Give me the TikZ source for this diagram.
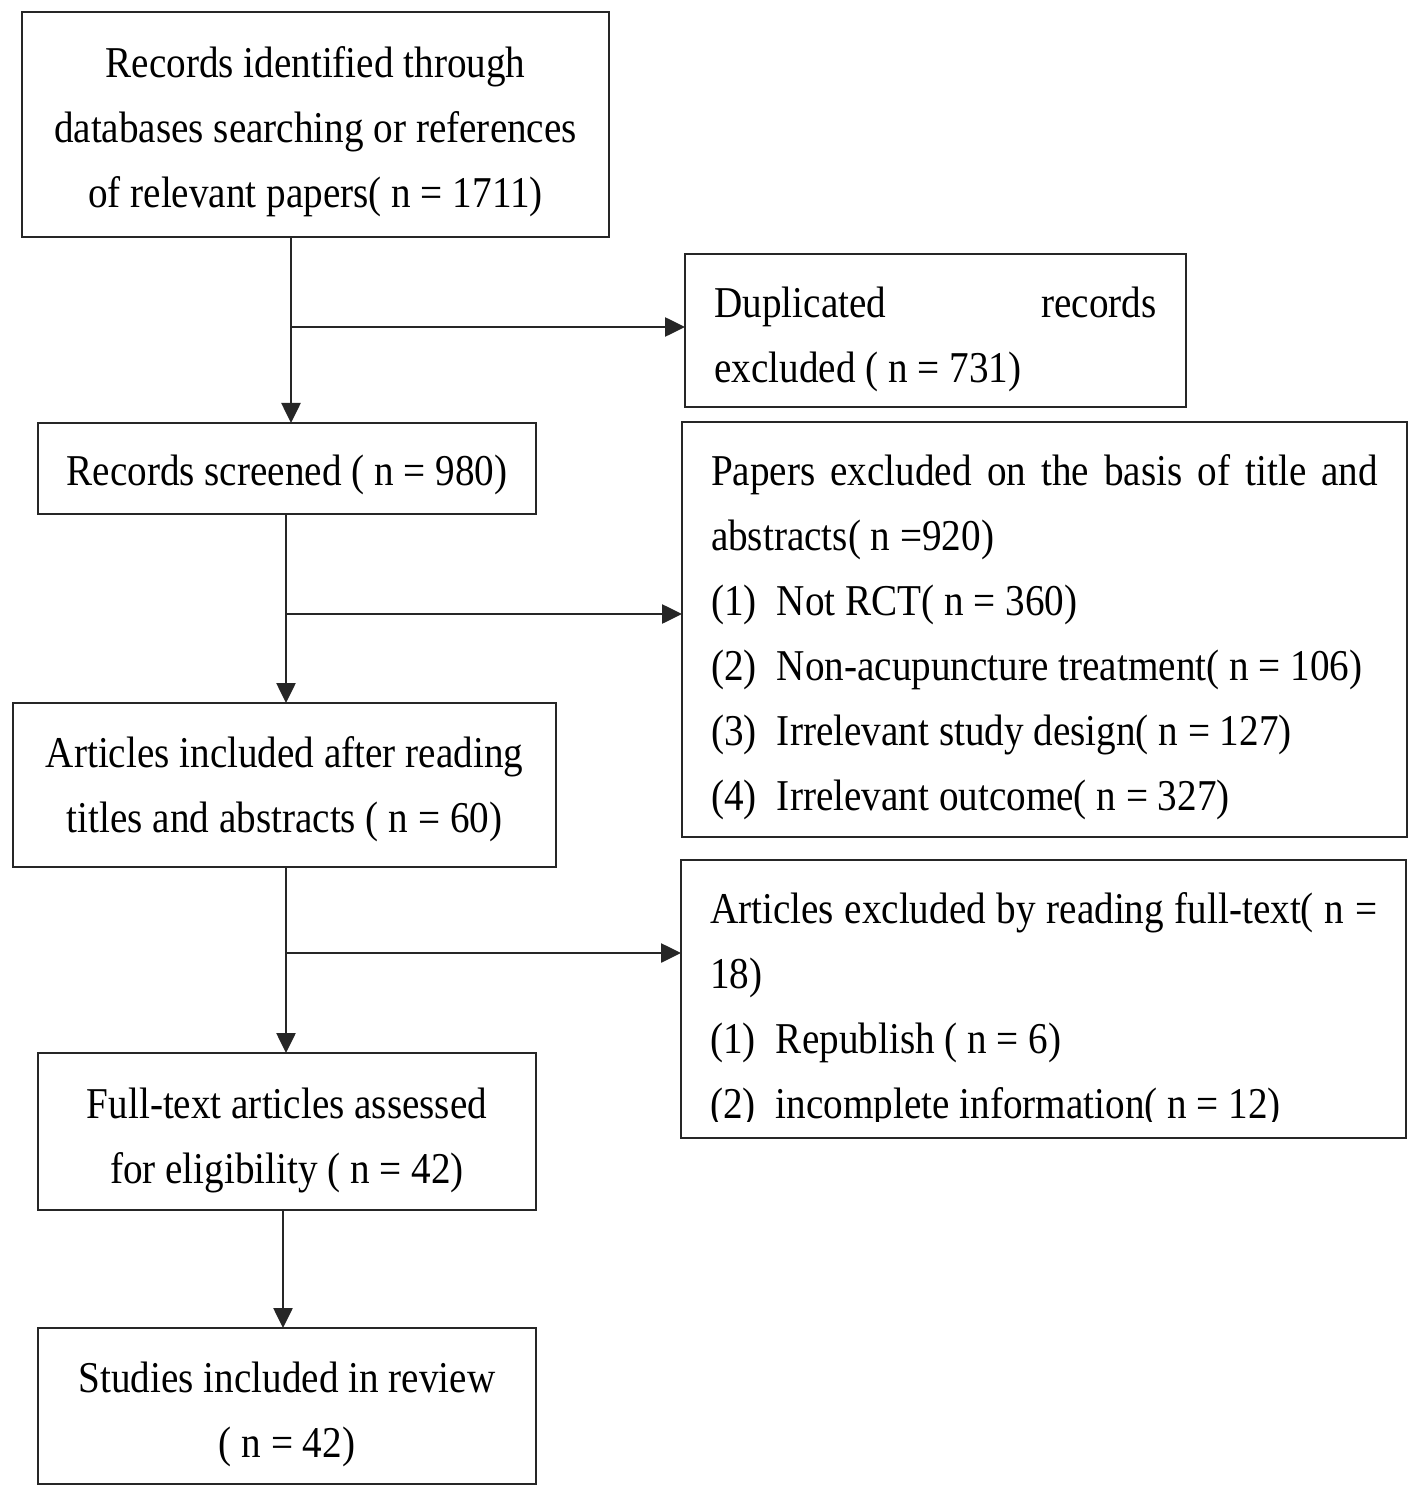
\documentclass[tikz,border=0pt]{standalone}
\usepackage{fontspec}
\setmainfont{Liberation Serif}[FakeStretch=0.89]
\usetikzlibrary{arrows.meta}
\begin{document}
\begin{tikzpicture}[x=0.5pt,y=-0.5pt,
  box/.style={draw=black!85, line width=1.3pt, inner sep=0pt, outer sep=0pt},
  txt/.style={font=\fontsize{22}{32.5}\selectfont, inner sep=0pt},
  ctxt/.style={txt, align=center},
  ltxt/.style={txt, align=flush left},
  arr/.style={draw=black!85, line width=1.3pt, -{Triangle[length=10pt,width=9.5pt]}}]
\useasboundingbox (0,0) rectangle (1418,1497);
\fill[white] (0,0) rectangle (1418,1497);

% boxes
\node[box, minimum width=293.5pt, minimum height=112.5pt] (b1) at (315.5,124.5) {};
\node[box, minimum width=250.5pt, minimum height=76.5pt] (b2) at (935.5,330.5) {};
\node[box, minimum width=249pt, minimum height=45.5pt] (b3) at (287,468.5) {};
\node[box, minimum width=362.5pt, minimum height=207.5pt] (b4) at (1044.5,629.5) {};
\node[box, minimum width=271.5pt, minimum height=82pt] (b5) at (284.5,785) {};
\node[box, minimum width=362.5pt, minimum height=139pt] (b6) at (1043.5,999) {};
\node[box, minimum width=249pt, minimum height=78.5pt] (b7) at (287,1131.5) {};
\node[box, minimum width=249pt, minimum height=78pt] (b8) at (287,1406) {};

% texts
\node[ctxt, yshift=-3.5pt] (b1t) at (b1.center)
  {Records identified through\\databases searching or references\\of relevant papers( n = 1711)};
\node[ltxt, text width=221pt, yshift=-4.5pt] (b2t) at (b2.center)
  {\makebox[\linewidth][s]{Duplicated\hfill records}\\excluded ( n = 731)};
\node[ctxt, yshift=-3pt] (b3t) at (b3.center) {Records screened ( n = 980)};
\node[ltxt, text width=333.5pt, yshift=-4pt] (b4t) at (b4.center)
  {\makebox[\linewidth][s]{Papers excluded on the basis of title and}\\
   abstracts( n =920)\\
   \makebox[33pt][l]{(1)}Not RCT( n = 360)\\
   \makebox[33pt][l]{(2)}Non-acupuncture treatment( n = 106)\\
   \makebox[33pt][l]{(3)}Irrelevant study design( n = 127)\\
   \makebox[33pt][l]{(4)}Irrelevant outcome( n = 327)};
\node[ctxt, yshift=-2pt] (b5t) at (b5.center)
  {Articles included after reading\\titles and abstracts ( n = 60)};
\begin{scope}
\clip (682,862) rectangle (1405,1121);
\node[ltxt, text width=333.5pt, yshift=-5.5pt] (b6t) at (b6.center)
  {\makebox[\linewidth][s]{Articles excluded by reading full-text( n =}\\
   18)\\
   \makebox[33pt][l]{(1)}Republish ( n = 6)\\
   \makebox[33pt][l]{(2)}incomplete information( n = 12)};
\end{scope}
\node[ctxt, yshift=-4.5pt] (b7t) at (b7.center)
  {Full-text articles assessed\\for eligibility ( n = 42)};
\node[ctxt, yshift=-4pt] (b8t) at (b8.center)
  {Studies included in review\\( n = 42)};

% connectors
\coordinate (t1) at (291,0);
\coordinate (j1) at (291,327);
\coordinate (t2) at (286,0);
\coordinate (j2) at (286,614);
\coordinate (j3) at (286,953);
\coordinate (t4) at (283,0);

\draw[arr] (b1.south -| t1) -- (b3.north -| t1);
\draw[arr] (j1) -- (j1 -| b2.west);
\draw[arr] (b3.south -| t2) -- (b5.north -| t2);
\draw[arr] (j2) -- (j2 -| b4.west);
\draw[arr] (b5.south -| t2) -- (b7.north -| t2);
\draw[arr] (j3) -- (j3 -| b6.west);
\draw[arr] (b7.south -| t4) -- (b8.north -| t4);
\end{tikzpicture}
\end{document}
